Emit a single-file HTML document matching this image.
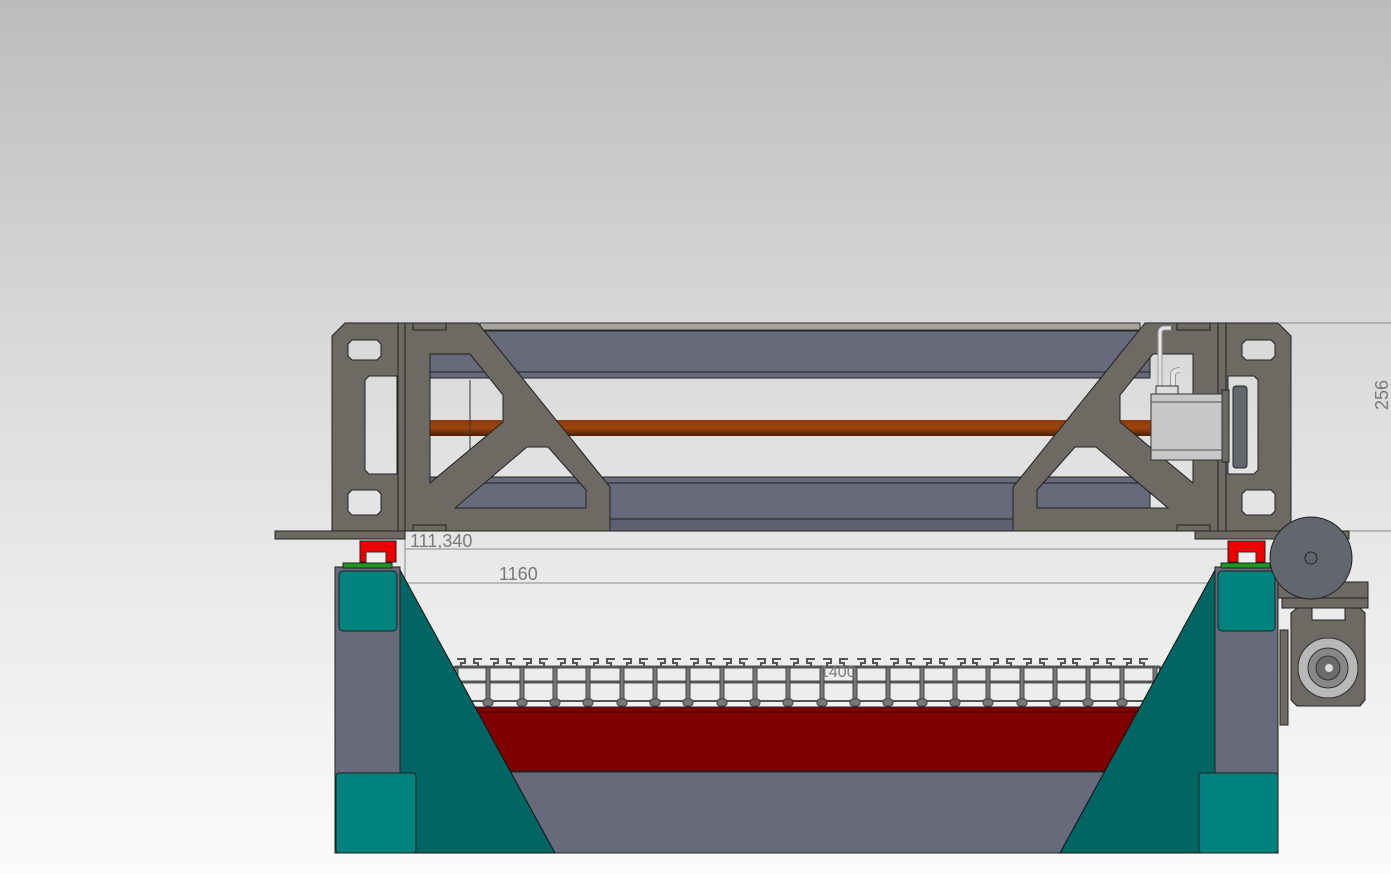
<!DOCTYPE html>
<html><head><meta charset="utf-8"><style>
html,body{margin:0;padding:0;}
body{width:1391px;height:874px;overflow:hidden;background:linear-gradient(#bcbcbc 0%,#d6d6d6 35%,#e9e9e9 65%,#fbfbfb 100%);}
svg{display:block}
text{font-family:"Liberation Sans",sans-serif;fill:#7a7a7a}
</style></head><body>
<svg width="1391" height="874" viewBox="0 0 1391 874" xmlns="http://www.w3.org/2000/svg">
<defs>
<linearGradient id="rod" x1="0" y1="0" x2="0" y2="1"><stop offset="0" stop-color="#8a3a0a"/><stop offset="0.5" stop-color="#9c4510"/><stop offset="1" stop-color="#4a1f05"/></linearGradient>
</defs>

<!-- dimension lines -->
<g stroke="#8a8a8a" stroke-width="1">
<line x1="405" y1="549" x2="1230" y2="549"/>
<line x1="405" y1="583" x2="1230" y2="583"/>
<line x1="1280" y1="323" x2="1391" y2="323"/>
<line x1="1280" y1="531" x2="1391" y2="531"/>
<line x1="405" y1="539" x2="405" y2="590"/>
</g>
<text x="410" y="547" font-size="18">111,340</text>
<text x="499" y="580" font-size="18">1160</text>
<text x="1391" y="410" font-size="18" transform="rotate(-90 1391 410)" dy="-3">256</text>

<!-- upper beams -->
<rect x="480" y="323" width="660" height="7" fill="#a6a39c" stroke="#333"/>
<rect x="430" y="331" width="720" height="47" fill="#666a7a" stroke="#222"/>
<line x1="430" y1="372" x2="1150" y2="372" stroke="#222"/>
<rect x="430" y="477" width="720" height="47" fill="#666a7a" stroke="#222"/>
<line x1="430" y1="483" x2="1150" y2="483" stroke="#222"/>
<rect x="430" y="519" width="720" height="12" fill="#5c6070" stroke="#222"/>
<rect x="430" y="420" width="730" height="16" fill="url(#rod)"/>
<line x1="470" y1="380" x2="470" y2="483" stroke="#333"/>

<!-- bottom plates -->
<rect x="275" y="531" width="130" height="8" fill="#6d6963" stroke="#222"/>
<rect x="1195" y="531" width="154" height="8" fill="#6d6963" stroke="#222"/>

<!-- left end plate -->
<path fill-rule="evenodd" fill="#6d6963" stroke="#222" d="M345 323 H398 V531 H332 V336 Z
M352 340 H377 L381 344 V356 L377 360 H352 L348 356 V344 Z
M352 490 H377 L381 494 V511 L377 515 H352 L348 511 V494 Z
M369 376 H397 V474 H369 L365 470 V380 Z"/>
<rect x="398" y="323" width="7" height="208" fill="#6d6963" stroke="#222"/>
<!-- left gusset -->
<path fill-rule="evenodd" fill="#6d6963" stroke="#222" d="M405 323 H478 L610 487 V531 H405 Z
M430 354 H470 L503 395 V422 L430 483 Z
M527 447 H548 L586 490 V508 H455 Z"/>
<rect x="413" y="323" width="33" height="7" fill="#6d6963" stroke="#222"/>
<rect x="413" y="525" width="33" height="6" fill="#6d6963" stroke="#222"/>

<!-- right gusset -->
<path fill-rule="evenodd" fill="#6d6963" stroke="#222" d="M1218 323 H1145 L1013 487 V531 H1218 Z
M1193 354 H1153 L1120 395 V422 L1193 483 Z
M1096 447 H1075 L1037 490 V508 H1168 Z"/>
<rect x="1177" y="323" width="33" height="7" fill="#6d6963" stroke="#222"/>
<rect x="1177" y="525" width="33" height="6" fill="#6d6963" stroke="#222"/>
<rect x="1218" y="323" width="8" height="208" fill="#6d6963" stroke="#222"/>
<!-- right end plate -->
<path fill-rule="evenodd" fill="#6d6963" stroke="#222" d="M1226 323 H1278 L1291 336 V531 H1226 Z
M1246 340 H1271 L1275 344 V356 L1271 360 H1246 L1242 356 V344 Z
M1246 490 H1271 L1275 494 V511 L1271 515 H1246 L1242 511 V494 Z
M1228 376 H1254 L1258 380 V470 L1254 474 H1228 Z"/>
<!-- motor -->
<rect x="1233" y="386" width="14" height="82" rx="3" fill="#62666f" stroke="#222"/>
<rect x="1222" y="390" width="7" height="72" fill="#6d6963" stroke="#222"/>
<path d="M1160 388 V333 Q1160 328 1165 328 H1171" fill="none" stroke="#999" stroke-width="5"/>
<path d="M1160 388 V333 Q1160 328 1165 328 H1171" fill="none" stroke="#e4e4e4" stroke-width="3"/>
<path d="M1173 390 V375 Q1173 370 1180 370" fill="none" stroke="#999" stroke-width="6"/>
<path d="M1173 390 V375 Q1173 370 1180 370" fill="none" stroke="#e4e4e4" stroke-width="4"/>
<rect x="1156" y="386" width="22" height="8" fill="#ddd" stroke="#333"/>
<rect x="1151" y="394" width="71" height="66" fill="#c8c8c8" stroke="#333"/>
<line x1="1151" y1="402" x2="1222" y2="402" stroke="#555"/>
<line x1="1151" y1="450" x2="1222" y2="450" stroke="#555"/>

<!-- lower base -->
<rect x="400" y="772" width="815" height="81" fill="#666a7a" stroke="#222"/>
<rect x="470" y="707" width="670" height="64" fill="#800000" stroke="#222"/>
<line x1="470" y1="712" x2="1140" y2="712" stroke="#3a0000"/>
<!-- chain -->
<g id="chain">
<rect x="455" y="667" width="705" height="34" fill="#eeeeee" stroke="#555" stroke-width="2"/>
<line x1="455" y1="682" x2="1160" y2="682" stroke="#555" stroke-width="3"/>
<path d="M455 667 H1160" stroke="#555" stroke-width="3"/>
</g>
<g stroke="#444" stroke-width="1" fill="#777">
<script></script>
</g>
<g fill="none" stroke="#555" stroke-width="2">
<path d="M457 659 h8 v4 h-4 v4 M478 667 v-4 h-4 v-4 h8 M490 659 h8 v4 h-4 v4 M511 667 v-4 h-4 v-4 h8 M523 659 h8 v4 h-4 v4 M544 667 v-4 h-4 v-4 h8 M557 659 h8 v4 h-4 v4 M577 667 v-4 h-4 v-4 h8 M590 659 h8 v4 h-4 v4 M611 667 v-4 h-4 v-4 h8 M623 659 h8 v4 h-4 v4 M644 667 v-4 h-4 v-4 h8 M657 659 h8 v4 h-4 v4 M677 667 v-4 h-4 v-4 h8 M690 659 h8 v4 h-4 v4 M711 667 v-4 h-4 v-4 h8 M723 659 h8 v4 h-4 v4 M744 667 v-4 h-4 v-4 h8 M757 659 h8 v4 h-4 v4 M777 667 v-4 h-4 v-4 h8 M790 659 h8 v4 h-4 v4 M811 667 v-4 h-4 v-4 h8 M823 659 h8 v4 h-4 v4 M844 667 v-4 h-4 v-4 h8 M857 659 h8 v4 h-4 v4 M877 667 v-4 h-4 v-4 h8 M890 659 h8 v4 h-4 v4 M911 667 v-4 h-4 v-4 h8 M923 659 h8 v4 h-4 v4 M944 667 v-4 h-4 v-4 h8 M957 659 h8 v4 h-4 v4 M977 667 v-4 h-4 v-4 h8 M990 659 h8 v4 h-4 v4 M1011 667 v-4 h-4 v-4 h8 M1023 659 h8 v4 h-4 v4 M1044 667 v-4 h-4 v-4 h8 M1057 659 h8 v4 h-4 v4 M1077 667 v-4 h-4 v-4 h8 M1090 659 h8 v4 h-4 v4 M1111 667 v-4 h-4 v-4 h8 M1123 659 h8 v4 h-4 v4 M1144 667 v-4 h-4 v-4 h8"/>
</g>
<g fill="#777" stroke="#444" stroke-width="1">
<rect x="454" y="667" width="4" height="36"/><rect x="452" y="699" width="8" height="7" rx="3"/>
<rect x="486" y="667" width="4" height="36"/><rect x="483" y="699" width="10" height="7" rx="3"/>
<rect x="520" y="667" width="4" height="36"/><rect x="517" y="699" width="10" height="7" rx="3"/>
<rect x="553" y="667" width="4" height="36"/><rect x="550" y="699" width="10" height="7" rx="3"/>
<rect x="586" y="667" width="4" height="36"/><rect x="583" y="699" width="10" height="7" rx="3"/>
<rect x="620" y="667" width="4" height="36"/><rect x="617" y="699" width="10" height="7" rx="3"/>
<rect x="653" y="667" width="4" height="36"/><rect x="650" y="699" width="10" height="7" rx="3"/>
<rect x="686" y="667" width="4" height="36"/><rect x="683" y="699" width="10" height="7" rx="3"/>
<rect x="720" y="667" width="4" height="36"/><rect x="717" y="699" width="10" height="7" rx="3"/>
<rect x="753" y="667" width="4" height="36"/><rect x="750" y="699" width="10" height="7" rx="3"/>
<rect x="786" y="667" width="4" height="36"/><rect x="783" y="699" width="10" height="7" rx="3"/>
<rect x="820" y="667" width="4" height="36"/><rect x="817" y="699" width="10" height="7" rx="3"/>
<rect x="853" y="667" width="4" height="36"/><rect x="850" y="699" width="10" height="7" rx="3"/>
<rect x="886" y="667" width="4" height="36"/><rect x="883" y="699" width="10" height="7" rx="3"/>
<rect x="920" y="667" width="4" height="36"/><rect x="917" y="699" width="10" height="7" rx="3"/>
<rect x="953" y="667" width="4" height="36"/><rect x="950" y="699" width="10" height="7" rx="3"/>
<rect x="986" y="667" width="4" height="36"/><rect x="983" y="699" width="10" height="7" rx="3"/>
<rect x="1020" y="667" width="4" height="36"/><rect x="1017" y="699" width="10" height="7" rx="3"/>
<rect x="1053" y="667" width="4" height="36"/><rect x="1050" y="699" width="10" height="7" rx="3"/>
<rect x="1086" y="667" width="4" height="36"/><rect x="1083" y="699" width="10" height="7" rx="3"/>
<rect x="1120" y="667" width="4" height="36"/><rect x="1117" y="699" width="10" height="7" rx="3"/>
<rect x="1153" y="667" width="4" height="36"/><rect x="1150" y="699" width="10" height="7" rx="3"/>
</g>
<text x="820" y="677" font-size="16">1400</text>
<!-- left column -->
<polygon points="400,570 555,853 400,853" fill="#006563" stroke="#111"/>
<rect x="335" y="567" width="65" height="286" fill="#666a7a" stroke="#222"/>
<rect x="339" y="571" width="58" height="60" rx="4" fill="#00827f" stroke="#222"/>
<rect x="336" y="773" width="80" height="80" rx="3" fill="#00827f" stroke="#222"/>
<!-- right column -->
<polygon points="1215,570 1060,853 1215,853" fill="#006563" stroke="#111"/>
<rect x="1215" y="567" width="63" height="286" fill="#666a7a" stroke="#222"/>
<rect x="1218" y="571" width="57" height="60" rx="4" fill="#00827f" stroke="#222"/>
<rect x="1199" y="773" width="79" height="80" rx="3" fill="#00827f" stroke="#222"/>

<!-- rails -->
<rect x="360" y="541" width="36" height="21" fill="#ee0000" stroke="#222"/>
<rect x="366" y="552" width="20" height="11" fill="#eee" stroke="#333"/>
<rect x="343" y="563" width="49" height="5" fill="#1a9a1a" stroke="#222"/>
<rect x="1228" y="541" width="37" height="21" fill="#ee0000" stroke="#222"/>
<rect x="1238" y="552" width="18" height="11" fill="#eee" stroke="#333"/>
<rect x="1221" y="563" width="49" height="5" fill="#1a9a1a" stroke="#222"/>

<!-- right drive -->
<rect x="1278" y="582" width="90" height="16" fill="#6d6963" stroke="#222"/>
<rect x="1282" y="598" width="86" height="10" fill="#6d6963" stroke="#222"/>
<rect x="1280" y="630" width="8" height="95" fill="#6d6963" stroke="#222"/>
<path d="M1297 608 H1312 V620 H1345 V608 H1360 L1365 613 V700 L1360 706 H1297 L1291 700 V613 Z" fill="#6d6963" stroke="#222"/>
<circle cx="1328" cy="668" r="30" fill="#b8b8b8" stroke="#333"/>
<circle cx="1328" cy="668" r="20" fill="#888" stroke="#333"/>
<circle cx="1328" cy="668" r="12" fill="#6b6b6b" stroke="#333"/>
<circle cx="1329" cy="668" r="4" fill="#ddd"/>
<circle cx="1311" cy="558" r="41" fill="#62666f" stroke="#222"/>
<circle cx="1311" cy="558" r="6" fill="none" stroke="#222"/>
</svg>
</body></html>
